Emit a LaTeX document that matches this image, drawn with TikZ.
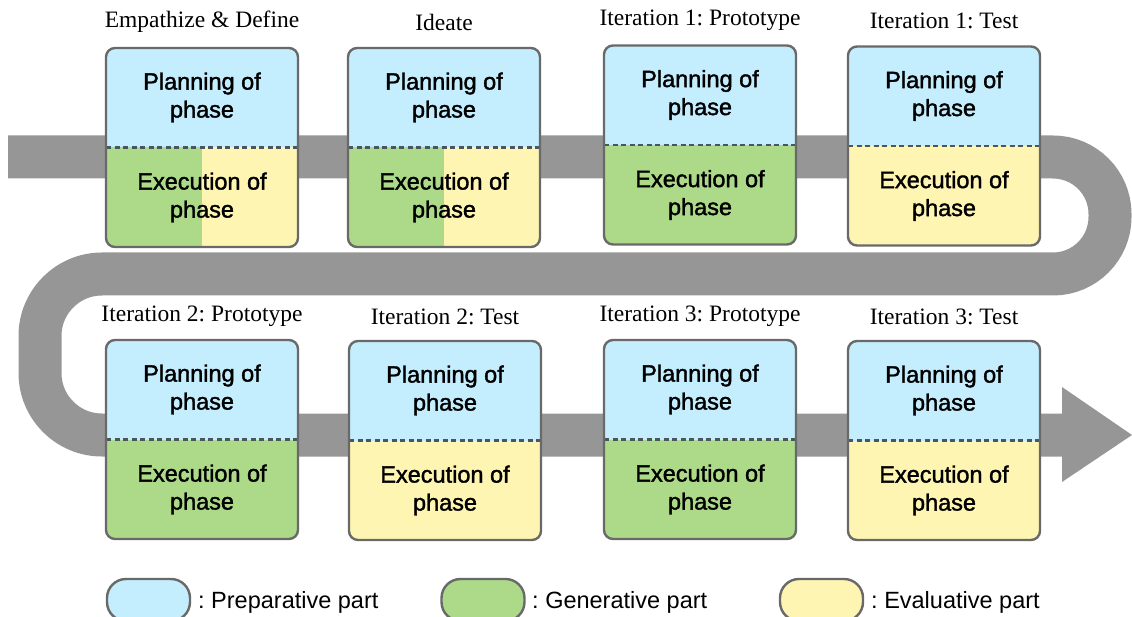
\documentclass[tikz,border=0pt]{standalone}
\usepackage{fontspec}
\setmainfont{Liberation Serif}
\newfontfamily\labelfont[FakeBold=1.6]{Liberation Sans}
\newfontfamily\legendfont{Liberation Sans}
\usetikzlibrary{calc}
\frenchspacing

\definecolor{prepc}{HTML}{C4EEFE}
\definecolor{genc}{HTML}{ACDA89}
\definecolor{evalc}{HTML}{FFF5B2}
\definecolor{boxline}{HTML}{696969}
\definecolor{bandc}{HTML}{969696}
\definecolor{dashc}{HTML}{4A5560}

\begin{document}
\begin{tikzpicture}[x=1pt,y=-1pt,
  band/.style={draw=bandc, line width=43pt, line cap=butt},
  phase/.style 2 args={draw=boxline, line width=2.4pt, rounded corners=9pt,
    minimum width=192pt, minimum height=199pt, inner sep=0pt,
    path picture={
      \fill[prepc, sharp corners] (path picture bounding box.north west) rectangle (path picture bounding box.east);
      \fill[#1, sharp corners] (path picture bounding box.west) rectangle (path picture bounding box.south);
      \fill[#2, sharp corners] (path picture bounding box.south) rectangle (path picture bounding box.east);
      \draw[dashc, sharp corners, line width=2.4pt, dash pattern=on 5pt off 3.5pt]
        (path picture bounding box.west) -- (path picture bounding box.east);
    }},
  ttl/.style={font=\fontsize{23.5}{28}\selectfont, inner sep=0pt},
  ptxt/.style={font=\labelfont\fontsize{23.5}{28}\selectfont, align=center, inner sep=0pt},
  pill/.style={draw=boxline, line width=2.4pt, rounded corners=19pt,
    minimum width=83pt, minimum height=42pt, inner sep=0pt},
  legtxt/.style={font=\legendfont\fontsize{23.5}{28}\selectfont, inner sep=0pt, anchor=base west}
]
\useasboundingbox (0,0) rectangle (1132,617);
\clip (0,0) rectangle (1132,617);

% winding process band
\draw[band] (8,157) [rounded corners=57pt] -- (1110,157) -- (1110,274)
  [rounded corners=62pt] -- (40,274) -- (40,435) -- (1063,435);
\fill[bandc] (1062,387) -- (1132,435) -- (1062,482) -- cycle;

% phase boxes, first row
\node[phase={genc}{evalc}] (b1) at (202,147.5) {};
\node[phase={genc}{evalc}] (b2) at (444,147.5) {};
\node[phase={genc}{genc}] (b3) at (700,145) {};
\node[phase={evalc}{evalc}] (b4) at (944,146) {};
% phase boxes, second row
\node[phase={genc}{genc}] (b5) at (202,439.5) {};
\node[phase={evalc}{evalc}] (b6) at (445,440.5) {};
\node[phase={genc}{genc}] (b7) at (700,439.5) {};
\node[phase={evalc}{evalc}] (b8) at (944,440.5) {};

% phase titles
\node[ttl] (t1) at (202,22) {Empathize \& Define};
\node[ttl] (t2) at (444,22) {Ideate};
\node[ttl] (t3) at (700,20) {Iteration 1: Prototype};
\node[ttl] (t4) at (944,21) {Iteration 1: Test};
\node[ttl] (t5) at (202,316) {Iteration 2: Prototype};
\node[ttl] (t6) at (445,317) {Iteration 2: Test};
\node[ttl] (t7) at (700,316) {Iteration 3: Prototype};
\node[ttl] (t8) at (944,317) {Iteration 3: Test};

% box texts
\foreach \b in {b1,b2,b3,b4,b5,b6,b7,b8}{
  \node[ptxt] (\b p) at ($(\b.center)+(0,-50)$) {Planning of\\phase};
  \node[ptxt] (\b e) at ($(\b.center)+(0,50)$) {Execution of\\phase};
}

% legend
\node[pill, fill=prepc] (l1) at (148.5,600) {};
\node[legtxt] (l1t) at (198,608) {: Preparative part};
\node[pill, fill=genc] (l2) at (483,600) {};
\node[legtxt] (l2t) at (532,608) {: Generative part};
\node[pill, fill=evalc] (l3) at (821.5,600) {};
\node[legtxt] (l3t) at (871,608) {: Evaluative part};
\end{tikzpicture}
\end{document}
